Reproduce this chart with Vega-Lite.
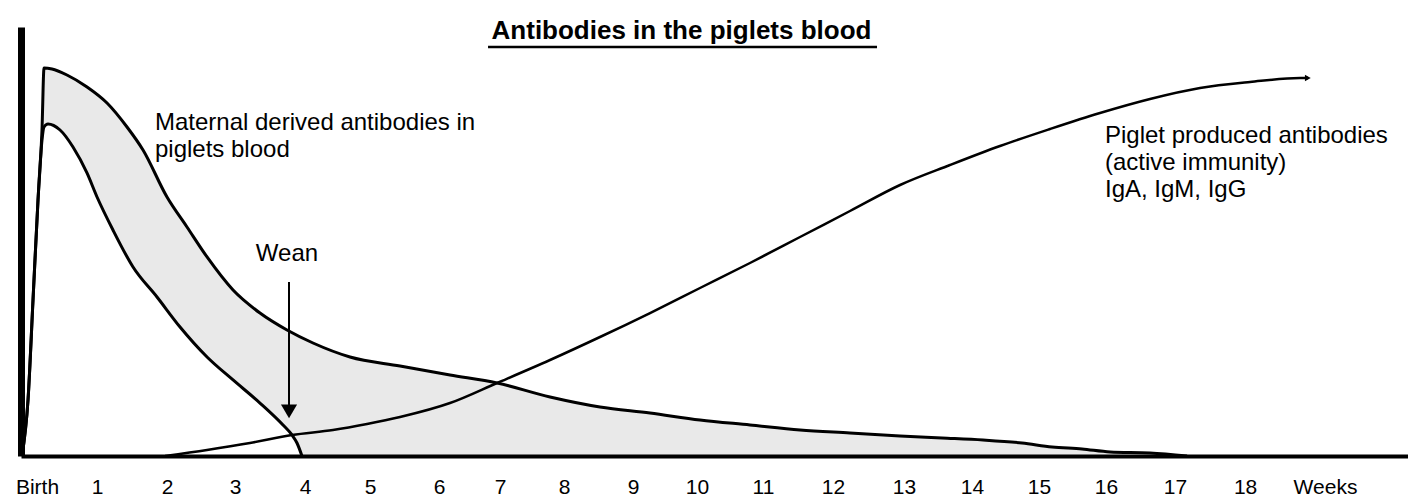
{
  "$schema": "https://vega.github.io/schema/vega-lite/v6.json",
  "width": 1387,
  "height": 429,
  "autosize": {"type": "none"},
  "padding": {"left": 21, "top": 27, "right": 0, "bottom": 40},
  "background": "white",
  "title": {
    "text": "Antibodies in the piglets blood",
    "font": "Liberation Sans",
    "fontSize": 26,
    "fontWeight": "bold",
    "color": "black",
    "anchor": "middle",
    "offset": 0,
    "dx": -33,
    "dy": 38,
    "baseline": "alphabetic"
  },
  "config": {"view": {"stroke": null}},
  "datasets": {
    "upper": [
      {"week": -0.111, "level": 0}, {"week": -0.022, "level": 13.05}, {"week": 0.052, "level": 36.36},
      {"week": 0.126, "level": 59.67}, {"week": 0.185, "level": 76.0}, {"week": 0.215, "level": 90.44},
      {"week": 0.333, "level": 90.21}, {"week": 0.555, "level": 88.81}, {"week": 0.852, "level": 86.01},
      {"week": 1.148, "level": 82.28}, {"week": 1.444, "level": 76.69}, {"week": 1.681, "level": 71.33},
      {"week": 2.036, "level": 60.37}, {"week": 2.332, "level": 53.38}, {"week": 2.629, "level": 46.39},
      {"week": 3.014, "level": 38.69}, {"week": 3.413, "level": 33.33}, {"week": 3.813, "level": 29.37},
      {"week": 4.198, "level": 26.34}, {"week": 4.746, "level": 23.08}, {"week": 5.487, "level": 20.98},
      {"week": 6.227, "level": 18.88}, {"week": 6.923, "level": 17.02}, {"week": 7.708, "level": 13.75},
      {"week": 8.448, "level": 11.42}, {"week": 9.189, "level": 10.02}, {"week": 9.929, "level": 8.39},
      {"week": 10.669, "level": 7.23}, {"week": 11.41, "level": 6.06}, {"week": 12.15, "level": 5.36},
      {"week": 12.891, "level": 4.66}, {"week": 13.512, "level": 4.2}, {"week": 14.12, "level": 3.73},
      {"week": 14.697, "level": 3.03}, {"week": 15.142, "level": 2.1}, {"week": 15.586, "level": 1.63},
      {"week": 16.001, "level": 0.93}, {"week": 16.593, "level": 0.7}, {"week": 17.141, "level": 0}
    ],
    "lower": [
      {"week": -0.111, "level": 0}, {"week": -0.022, "level": 13.05}, {"week": 0.052, "level": 36.36},
      {"week": 0.126, "level": 59.67}, {"week": 0.185, "level": 73.66}, {"week": 0.215, "level": 76.69},
      {"week": 0.274, "level": 77.39}, {"week": 0.452, "level": 75.99}, {"week": 0.644, "level": 72.03},
      {"week": 0.851, "level": 65.97}, {"week": 1.0, "level": 60.37}, {"week": 1.236, "level": 52.68},
      {"week": 1.533, "level": 44.06}, {"week": 1.888, "level": 37.06}, {"week": 2.229, "level": 30.07},
      {"week": 2.629, "level": 23.08}, {"week": 3.014, "level": 17.72}, {"week": 3.413, "level": 12.35},
      {"week": 3.754, "level": 7.23}, {"week": 3.887, "level": 4.9}, {"week": 3.961, "level": 3.03},
      {"week": 4.035, "level": 0}
    ],
    "piglet": [
      {"week": 2.007, "level": 0}, {"week": 2.629, "level": 1.4}, {"week": 3.265, "level": 3.03},
      {"week": 3.887, "level": 4.9}, {"week": 4.494, "level": 6.06}, {"week": 4.998, "level": 7.46},
      {"week": 5.487, "level": 9.09}, {"week": 6.227, "level": 12.35}, {"week": 6.923, "level": 17.02},
      {"week": 7.708, "level": 22.38}, {"week": 8.448, "level": 27.74}, {"week": 9.189, "level": 33.33},
      {"week": 9.929, "level": 39.16}, {"week": 10.669, "level": 44.99}, {"week": 11.41, "level": 51.05},
      {"week": 12.15, "level": 57.11}, {"week": 12.891, "level": 63.17}, {"week": 13.631, "level": 67.83},
      {"week": 14.371, "level": 72.26}, {"week": 15.112, "level": 76.22}, {"week": 15.852, "level": 79.95},
      {"week": 16.593, "level": 83.22}, {"week": 17.333, "level": 85.78}, {"week": 18.074, "level": 87.18},
      {"week": 18.814, "level": 88.11}, {"week": 18.932, "level": 88.11}
    ],
    "notes": [
      {"week": 1.858, "level": 75.99, "label": "Maternal derived antibodies in\npiglets blood"},
      {"week": 15.926, "level": 72.96, "label": "Piglet produced antibodies\n(active immunity)\nIgA, IgM, IgG"}
    ],
    "wean": [
      {"week": 3.813, "level": 45.45, "label": "Wean", "tip": 10.4, "shaftTop": 40.56, "shaftBottom": 11.89, "arrowWeek": 3.843}
    ],
    "underline": [
      {"start": 6.79, "end": 12.55, "level": 95.34}
    ],
    "ends": [
      {"week": 18.93, "level": 88.11}
    ]
  },
  "encoding": {
    "x": {
      "field": "week",
      "type": "quantitative",
      "scale": {"domain": [-0.1259, 20.413], "nice": false, "zero": false},
      "axis": {
        "orient": "bottom",
        "title": null,
        "grid": false,
        "ticks": false,
        "tickSize": 0,
        "domainColor": "black",
        "domainWidth": 4,
        "labelFont": "Liberation Sans",
        "labelFontSize": 21,
        "labelColor": "black",
        "labelBaseline": "alphabetic",
        "labelPadding": 37,
        "labelOverlap": false,
        "labelFlush": false,
        "labelBound": false,
        "zindex": 1,
        "values": [0.111, 1.0, 2.036, 3.043, 4.08, 5.042, 6.064, 6.967, 7.915, 8.937, 9.885, 10.862, 11.899, 12.95, 13.957, 14.949, 15.941, 16.963, 18.0, 19.184],
        "labelExpr": "datum.value < 0.5 ? 'Birth' : (datum.value > 18.5 ? 'Weeks' : format(round(datum.value), 'd'))"
      }
    },
    "y": {
      "field": "level",
      "type": "quantitative",
      "scale": {"domain": [0, 100], "nice": false, "zero": true},
      "axis": {
        "orient": "left",
        "title": null,
        "grid": false,
        "ticks": false,
        "labels": false,
        "domainColor": "black",
        "domainWidth": 7,
        "zindex": 1
      }
    }
  },
  "layer": [
    {"data": {"name": "upper"}, "mark": {"type": "area", "color": "#e9e9e9", "interpolate": "monotone"}},
    {"data": {"name": "lower"}, "mark": {"type": "area", "color": "white", "interpolate": "monotone"}},
    {"data": {"name": "upper"}, "mark": {"type": "line", "color": "black", "strokeWidth": 3, "interpolate": "monotone"}},
    {"data": {"name": "lower"}, "mark": {"type": "line", "color": "black", "strokeWidth": 3, "interpolate": "monotone"}},
    {"data": {"name": "piglet"}, "mark": {"type": "line", "color": "black", "strokeWidth": 2.5, "interpolate": "monotone"}},
    {
      "data": {"name": "ends"},
      "mark": {"type": "point", "shape": "triangle-right", "filled": true, "color": "black", "size": 45, "opacity": 1}
    },
    {
      "data": {"name": "wean"},
      "mark": {"type": "rule", "color": "black", "strokeWidth": 2},
      "encoding": {"x": {"field": "arrowWeek", "type": "quantitative"}, "y": {"field": "shaftTop", "type": "quantitative"}, "y2": {"field": "shaftBottom"}}
    },
    {
      "data": {"name": "wean"},
      "mark": {"type": "point", "shape": "triangle-down", "filled": true, "color": "black", "size": 260, "opacity": 1},
      "encoding": {"x": {"field": "arrowWeek", "type": "quantitative"}, "y": {"field": "tip", "type": "quantitative"}}
    },
    {
      "data": {"name": "wean"},
      "mark": {"type": "text", "font": "Liberation Sans", "fontSize": 24, "align": "center", "baseline": "alphabetic", "color": "black"},
      "encoding": {"text": {"field": "label"}}
    },
    {
      "data": {"name": "notes"},
      "mark": {"type": "text", "font": "Liberation Sans", "fontSize": 24, "align": "left", "baseline": "alphabetic", "color": "black", "lineBreak": "\n", "lineHeight": 27},
      "encoding": {"text": {"field": "label"}}
    },
    {
      "data": {"name": "underline"},
      "mark": {"type": "rule", "color": "black", "strokeWidth": 2.5},
      "encoding": {"x": {"field": "start", "type": "quantitative"}, "x2": {"field": "end"}, "y": {"field": "level", "type": "quantitative"}}
    }
  ]
}
